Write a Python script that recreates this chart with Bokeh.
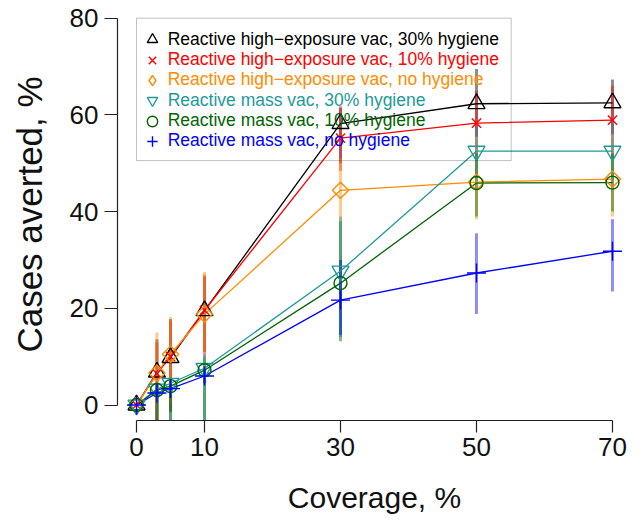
from bokeh.plotting import figure
from bokeh.models import Range1d, FixedTicker, Legend, LegendItem, BoxAnnotation
from bokeh.embed import file_html
from bokeh.resources import INLINE
import math

# ---------------- data ----------------
coverage = [0, 3, 5, 10, 30, 50, 70]
x_ticks = [0, 10, 30, 50, 70]
y_ticks = [0, 20, 40, 60, 80]

labels = [
    "Reactive high\u2212exposure vac, 30% hygiene",
    "Reactive high\u2212exposure vac, 10% hygiene",
    "Reactive high\u2212exposure vac, no hygiene",
    "Reactive mass vac, 30% hygiene",
    "Reactive mass vac, 10% hygiene",
    "Reactive mass vac, no hygiene",
]

he30_mean = [0, 6.8, 9.8, 19.5, 58.2, 62.3, 62.5]
he30_lo = [0, -4.0, -1.5, 11.0, 50.0, 55.5, 56.0]
he30_hi = [0, 13.6, 17.8, 26.6, 61.5, 69.5, 67.3]

he10_mean = [0, 6.5, 10.0, 19.6, 55.2, 58.3, 58.9]
he10_lo = [0, -4.5, -1.2, 10.0, 48.4, 51.5, 51.0]
he10_hi = [0, 13.0, 17.5, 27.0, 61.8, 65.0, 66.0]

heno_mean = [0, 6.6, 10.5, 18.8, 44.4, 46.1, 46.7]
heno_lo = [0, -3.5, 0.0, 11.0, 38.0, 38.4, 39.0]
heno_hi = [0, 15.0, 18.2, 27.5, 51.0, 54.5, 55.0]

m30_mean = [0, 3.3, 4.5, 7.6, 27.7, 52.5, 52.5]
m30_lo = [0, -4.0, -4.0, -4.0, 14.0, 47.0, 46.5]
m30_hi = [0, 4.5, 5.5, 10.5, 39.0, 57.5, 58.7]

m10_mean = [0, 3.1, 3.9, 7.2, 25.2, 45.9, 46.0]
m10_lo = [0, -4.0, -4.0, -4.0, 13.2, 39.0, 40.0]
m10_hi = [0, 4.2, 5.0, 10.0, 38.0, 52.0, 52.0]

mno_mean = [0, 2.5, 3.4, 6.0, 21.7, 27.3, 31.8]
mno_lo = [0, 1.5, 2.5, 4.5, 14.5, 18.8, 23.5]
mno_hi = [0, 3.5, 4.4, 7.5, 30.0, 35.5, 38.4]

# ---------------- styles ----------------
FONT = "Liberation Sans"
# (label, mean, lo, hi, colour, plot marker, size, angle, legend marker)
series = [
    (labels[0], he30_mean, he30_lo, he30_hi, "#000000", "triangle", 17, 0, "triangle"),
    (labels[1], he10_mean, he10_lo, he10_hi, "#FF0000", "x", 13, 0, "x"),
    (labels[2], heno_mean, heno_lo, heno_hi, "#FF8C00", "square", 11.5, math.pi / 4, "diamond"),
    (labels[3], m30_mean, m30_lo, m30_hi, "#1E9A9A", "inverted_triangle", 17, 0, "inverted_triangle"),
    (labels[4], m10_mean, m10_lo, m10_hi, "#006400", "circle", 13, 0, "circle"),
    (labels[5], mno_mean, mno_lo, mno_hi, "#0000FF", "cross", 19, 0, "cross"),
]

p = figure(
    frame_width=514, frame_height=412,
    min_border_left=117, min_border_right=8, min_border_top=8, min_border_bottom=98,
    x_range=Range1d(-2.8, 72.8), y_range=Range1d(-3.2, 82),
    output_backend="svg", toolbar_location=None,
)
p.outline_line_color = None
p.grid.grid_line_color = None
p.background_fill_color = "white"

for ax, ticks in ((p.xaxis[0], x_ticks), (p.yaxis[0], y_ticks)):
    ax.ticker = FixedTicker(ticks=ticks)
    ax.bounds = (ticks[0], ticks[-1])
    ax.axis_line_color = "#222222"
    ax.axis_line_width = 1.2
    ax.major_tick_line_color = "#222222"
    ax.major_tick_line_width = 1.2
    ax.major_tick_in = 0
    ax.minor_tick_out = 0
    ax.minor_tick_in = 0
    ax.major_label_text_font = FONT
    ax.major_label_text_font_size = "26px"
    ax.major_label_text_color = "#111111"
    ax.axis_label_text_font = FONT
    ax.axis_label_text_font_style = "normal"
    ax.axis_label_text_color = "#111111"

p.xaxis.major_tick_out = 12
p.xaxis.major_label_standoff = 5
p.yaxis.major_tick_out = 13
p.yaxis.major_label_standoff = 6

p.xaxis.axis_label = "Coverage, %"
p.xaxis.axis_label_text_font_size = "30px"
p.xaxis.axis_label_standoff = 22
p.yaxis.axis_label = "Cases averted, %"
p.yaxis.axis_label_text_font_size = "35px"
p.yaxis.axis_label_standoff = 18

# error bars
for s in series:
    p.segment(x0=coverage, y0=s[2], x1=coverage, y1=s[3],
              line_color=s[4], line_alpha=0.45, line_width=3)

# lines
for s in series:
    p.line(coverage, s[1], line_color=s[4], line_width=1.3)

# markers
legend_rs = []
for s in series:
    r = p.scatter(coverage, s[1], marker=s[5], size=s[6], angle=s[7],
                  fill_color=None, line_color=s[4], line_width=1.4)
    if s[8] != s[5]:
        # legend-only glyph (hidden from the plot area)
        r = p.scatter(coverage, s[1], marker=s[8], size=s[6],
                      fill_color=None, line_color=s[4], line_width=1.4, visible=False)
    legend_rs.append(r)

# legend frame (anchored at data top-left corner like R's legend(0, 80))
box = BoxAnnotation(left=0, top=80, right=55.1, bottom=50.55,
                    fill_alpha=0, line_color="#333333", line_width=1)
p.add_layout(box)

GH = 26
row_y0 = 39.3   # page y of first row centre
row_dy = 20.3
frame_bottom = 8 + 412
for i, (r, s) in enumerate(zip(legend_rs, series)):
    yc = row_y0 + row_dy * i
    leg = Legend(
        items=[LegendItem(label=s[0], renderers=[r])],
        location=(151.7 - 117 - GH / 2, frame_bottom - (yc + GH / 2)),
        padding=0, margin=0, spacing=0,
        border_line_color=None, background_fill_alpha=0,
        inactive_fill_alpha=0,
        glyph_width=GH, glyph_height=GH, label_height=GH,
        label_standoff=3,
        label_text_font=FONT, label_text_font_size="17.5px",
        label_text_color=s[4], label_text_baseline="middle",
    )
    p.add_layout(leg, "center")

open("out.html", "w").write(file_html(p, INLINE))
